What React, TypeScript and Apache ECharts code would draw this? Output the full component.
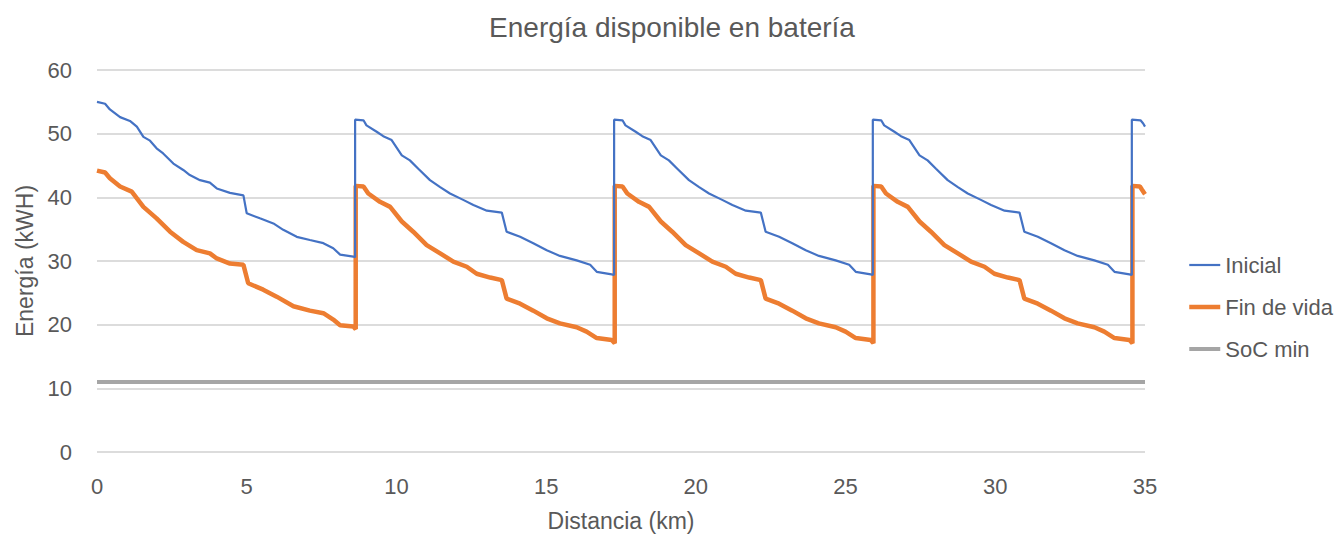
import React, { useEffect, useRef } from "react";
import * as echarts from "echarts";

const TITLE = "Energía disponible en batería";
const X_NAME = "Distancia (km)";
const Y_NAME = "Energía (kWH)";
const SERIES_NAMES = ["Inicial", "Fin de vida", "SoC min"];

// Inicial (kWh) vs distance (km), one array per charge cycle
const inicialC1: number[][] = [
  [0, 55.0], [0.27, 54.7], [0.43, 53.8], [0.77, 52.6], [1.1, 52.0], [1.33, 51.1], [1.55, 49.5],
  [1.77, 48.9], [1.99, 47.7], [2.21, 46.9], [2.55, 45.3], [2.88, 44.3], [3.1, 43.5], [3.44, 42.7],
  [3.77, 42.3], [4.0, 41.4], [4.44, 40.7], [4.89, 40.3], [5.0, 37.5], [5.44, 36.7], [5.89, 35.9],
  [6.22, 34.9], [6.67, 33.8], [7.11, 33.3], [7.56, 32.8], [7.89, 32.0], [8.12, 31.0], [8.56, 30.7],
  [8.62, 30.6],
];
const inicialC2: number[][] = [
  [8.62, 52.2], [8.9, 52.1], [9.0, 51.3], [9.34, 50.3], [9.56, 49.6], [9.84, 49.0], [10.18, 46.6],
  [10.45, 45.8], [10.73, 44.5], [11.12, 42.7], [11.46, 41.6], [11.79, 40.6], [12.23, 39.6],
  [12.57, 38.8], [13.02, 37.9], [13.52, 37.6], [13.68, 34.6], [14.13, 33.8], [14.57, 32.8],
  [15.02, 31.7], [15.46, 30.8], [16.02, 30.1], [16.47, 29.4], [16.69, 28.3], [17.19, 27.9],
  [17.27, 27.8],
];
const inicialC3: number[][] = [
  [17.27, 52.2], [17.55, 52.1], [17.65, 51.3], [17.99, 50.3], [18.21, 49.6], [18.49, 49.0],
  [18.83, 46.6], [19.1, 45.8], [19.38, 44.5], [19.77, 42.7], [20.11, 41.6], [20.44, 40.6],
  [20.88, 39.6], [21.22, 38.8], [21.67, 37.9], [22.17, 37.6], [22.33, 34.6], [22.78, 33.8],
  [23.22, 32.8], [23.67, 31.7], [24.11, 30.8], [24.67, 30.1], [25.12, 29.4], [25.34, 28.3],
  [25.84, 27.9], [25.91, 27.8],
];
const inicialC4: number[][] = [
  [25.91, 52.2], [26.19, 52.1], [26.29, 51.3], [26.63, 50.3], [26.85, 49.6], [27.13, 49.0],
  [27.47, 46.6], [27.74, 45.8], [28.02, 44.5], [28.41, 42.7], [28.75, 41.6], [29.08, 40.6],
  [29.52, 39.6], [29.86, 38.8], [30.31, 37.9], [30.81, 37.6], [30.97, 34.6], [31.42, 33.8],
  [31.86, 32.8], [32.31, 31.7], [32.75, 30.8], [33.31, 30.1], [33.76, 29.4], [33.98, 28.3],
  [34.48, 27.9], [34.56, 27.8],
];
const inicialC5: number[][] = [[34.56, 52.2], [34.85, 52.1], [34.94, 51.6], [35.0, 51.1]];

// Fin de vida (kWh) vs distance (km)
const finC1: number[][] = [
  [0, 44.2], [0.27, 43.9], [0.43, 43.0], [0.77, 41.7], [1.16, 40.9], [1.55, 38.5], [1.99, 36.7],
  [2.44, 34.6], [2.88, 33.0], [3.33, 31.7], [3.77, 31.2], [4.0, 30.4], [4.44, 29.6], [4.89, 29.4],
  [5.05, 26.5], [5.55, 25.5], [6.0, 24.4], [6.56, 22.9], [7.11, 22.2], [7.56, 21.8], [7.89, 20.8],
  [8.12, 19.9], [8.56, 19.7], [8.64, 19.3],
];
const finC2: number[][] = [
  [8.64, 41.8], [8.9, 41.7], [9.06, 40.6], [9.45, 39.3], [9.79, 38.5], [10.18, 36.2], [10.56, 34.6],
  [11.01, 32.5], [11.46, 31.2], [11.9, 29.9], [12.35, 29.1], [12.68, 28.0], [13.13, 27.4],
  [13.52, 27.0], [13.68, 24.1], [14.13, 23.3], [14.57, 22.2], [15.02, 21.0], [15.46, 20.2],
  [16.02, 19.6], [16.35, 18.9], [16.69, 17.9], [17.19, 17.6], [17.29, 17.1],
];
const finC3: number[][] = [
  [17.29, 41.8], [17.55, 41.7], [17.71, 40.6], [18.1, 39.3], [18.44, 38.5], [18.83, 36.2],
  [19.21, 34.6], [19.66, 32.5], [20.11, 31.2], [20.55, 29.9], [21.0, 29.1], [21.33, 28.0],
  [21.78, 27.4], [22.17, 27.0], [22.33, 24.1], [22.78, 23.3], [23.22, 22.2], [23.67, 21.0],
  [24.11, 20.2], [24.67, 19.6], [25.0, 18.9], [25.34, 17.9], [25.84, 17.6], [25.93, 17.1],
];
const finC4: number[][] = [
  [25.93, 41.8], [26.19, 41.7], [26.35, 40.6], [26.74, 39.3], [27.08, 38.5], [27.47, 36.2],
  [27.85, 34.6], [28.3, 32.5], [28.75, 31.2], [29.19, 29.9], [29.64, 29.1], [29.97, 28.0],
  [30.42, 27.4], [30.81, 27.0], [30.97, 24.1], [31.42, 23.3], [31.86, 22.2], [32.31, 21.0],
  [32.75, 20.2], [33.31, 19.6], [33.64, 18.9], [33.98, 17.9], [34.48, 17.6], [34.58, 17.1],
];
const finC5: number[][] = [[34.58, 41.8], [34.83, 41.7], [34.9, 41.2], [35.0, 40.5]];

const socMin: number[][] = [[0, 11], [35, 11]];

const inicial = [...inicialC1, ...inicialC2, ...inicialC3, ...inicialC4, ...inicialC5];
const finDeVida = [...finC1, ...finC2, ...finC3, ...finC4, ...finC5];

const FONT = "Liberation Sans";
const TEXT = "#595959";
const COLORS = ["#4472C4", "#ED7D31", "#A5A5A5"];
const WIDTHS = [2.2, 4.5, 4];

export default function App() {
  const ref = useRef<HTMLDivElement>(null);
  useEffect(() => {
    if (!ref.current) return;
    const chart = echarts.init(ref.current, undefined, { renderer: "svg" });
    chart.setOption({
      animation: false,
      backgroundColor: "#ffffff",
      textStyle: { fontFamily: FONT, color: TEXT },
      title: {
        text: TITLE,
        left: "center",
        top: 8,
        textStyle: { fontFamily: FONT, fontSize: 28, fontWeight: "normal", color: TEXT },
      },
      legend: {
        orient: "vertical",
        left: 1182,
        top: 249,
        itemWidth: 31,
        itemHeight: 14,
        itemGap: 20,
        itemStyle: { opacity: 0 },
        data: SERIES_NAMES.map((n, i) => ({
          name: n,
          itemStyle: { opacity: 0 },
          lineStyle: { color: COLORS[i], width: WIDTHS[i] },
        })),
        textStyle: { fontFamily: FONT, fontSize: 22, color: TEXT },
      },
      grid: { left: 97, right: 199, top: 70, bottom: 88 },
      xAxis: {
        type: "value",
        min: 0,
        max: 35,
        interval: 5,
        name: X_NAME,
        nameLocation: "middle",
        nameGap: 57,
        nameTextStyle: { fontFamily: FONT, fontSize: 23, color: TEXT },
        axisLine: { show: false },
        axisTick: { show: false },
        splitLine: { show: false },
        axisLabel: { fontFamily: FONT, fontSize: 22, color: TEXT, margin: 23 },
      },
      yAxis: {
        type: "value",
        min: 0,
        max: 60,
        interval: 10,
        name: Y_NAME,
        nameLocation: "middle",
        nameGap: 58,
        nameTextStyle: { fontFamily: FONT, fontSize: 23, color: TEXT },
        axisLine: { show: false },
        axisTick: { show: false },
        splitLine: { show: true, lineStyle: { color: "#d0d0d0", width: 1.5 } },
        axisLabel: { fontFamily: FONT, fontSize: 22, color: TEXT, margin: 25 },
      },
      series: [
        {
          name: SERIES_NAMES[0],
          type: "line",
          data: inicial,
          symbol: "none",
          color: COLORS[0],
          lineStyle: { color: COLORS[0], width: WIDTHS[0] },
          z: 4,
        },
        {
          name: SERIES_NAMES[1],
          type: "line",
          data: finDeVida,
          symbol: "none",
          color: COLORS[1],
          lineStyle: { color: COLORS[1], width: WIDTHS[1] },
          z: 3,
        },
        {
          name: SERIES_NAMES[2],
          type: "line",
          data: socMin,
          symbol: "none",
          color: COLORS[2],
          lineStyle: { color: COLORS[2], width: WIDTHS[2] },
          z: 2,
        },
      ],
    });
    return () => chart.dispose();
  }, []);
  return (
    <div
      ref={ref}
      style={{ position: "absolute", left: 0, top: 0, width: 1344, height: 540 }}
    />
  );
}
